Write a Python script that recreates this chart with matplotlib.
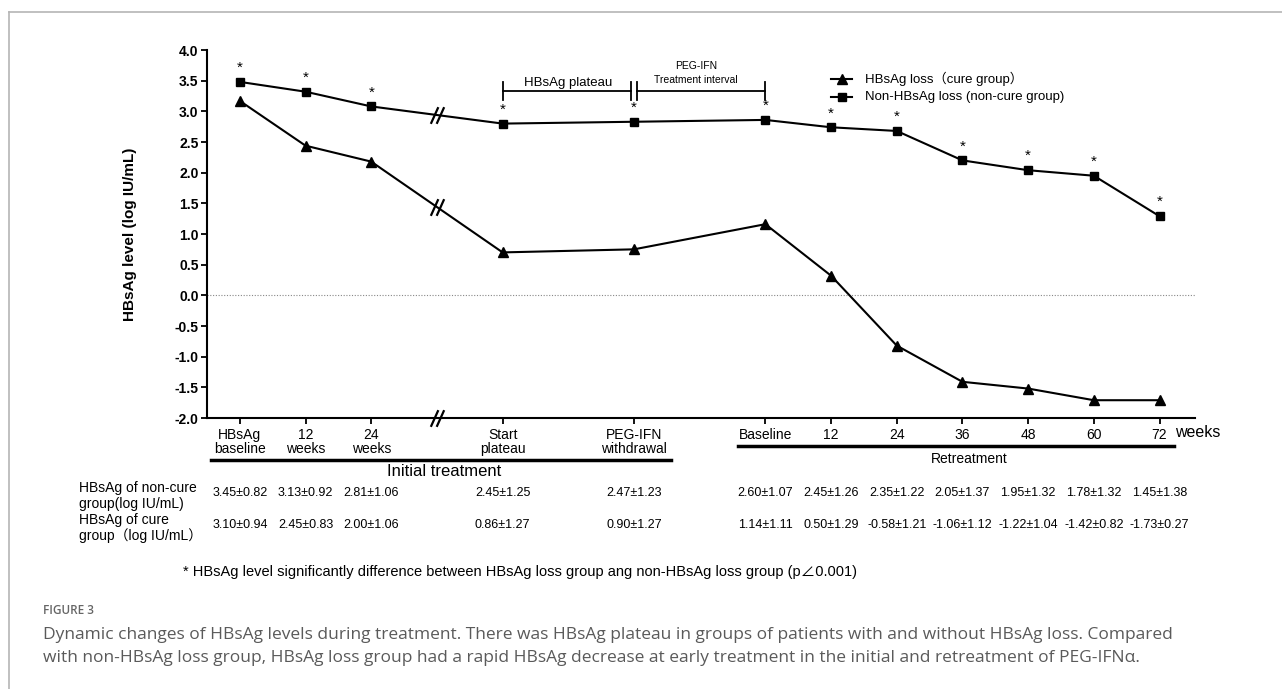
import numpy as np
import matplotlib
matplotlib.use("Agg")
import matplotlib.pyplot as plt
import matplotlib.transforms as mtransforms
from matplotlib.lines import Line2D
from matplotlib.path import Path

plt.rcParams['font.family'] = ['Liberation Sans', 'Noto Sans CJK SC', 'DejaVu Sans']

# time points (x-axis categories)
time_labels = ["HBsAg\nbaseline", "12\nweeks", "24\nweeks", "Start\nplateau", "PEG-IFN\nwithdrawal",
               "Baseline", "12", "24", "36", "48", "60", "72"]
slots = [0, 1, 2, 4, 6, 8, 9, 10, 11, 12, 13, 14]
break_slot = 3

# mean HBsAg level, log IU/mL
noncure_mean = [3.48, 3.32, 3.08, 2.80, 2.83, 2.86, 2.74, 2.68, 2.20, 2.04, 1.95, 1.29]
cure_mean = [3.17, 2.44, 2.18, 0.70, 0.75, 1.16, 0.32, -0.82, -1.41, -1.52, -1.71, -1.71]

# table under the chart
noncure_txt = ["3.45±0.82", "3.13±0.92", "2.81±1.06", "2.45±1.25", "2.47±1.23",
               "2.60±1.07", "2.45±1.26", "2.35±1.22", "2.05±1.37", "1.95±1.32", "1.78±1.32", "1.45±1.38"]
cure_txt = ["3.10±0.94", "2.45±0.83", "2.00±1.06", "0.86±1.27", "0.90±1.27",
            "1.14±1.11", "0.50±1.29", "-0.58±1.21", "-1.06±1.12", "-1.22±1.04", "-1.42±0.82", "-1.73±0.27"]

W, H = 1282, 689
fig = plt.figure(figsize=(W / 100, H / 100), dpi=100)

def fx(px):
    return px / W

def fy(px):
    return 1 - px / H

ax = fig.add_axes([fx(207), fy(418), fx(1195) - fx(207), fy(50) - fy(418)])
x = np.array(slots, dtype=float)

ax.plot(x, noncure_mean, color='black', lw=1.5, marker='s', ms=6, zorder=3)
ax.plot(x, cure_mean, color='black', lw=1.5, marker='^', ms=7.5, zorder=3)
ax.axhline(0, color='#888888', lw=0.8, ls=(0, (1, 1.5)), zorder=1)

for xi, yi in zip(x, noncure_mean):
    ax.annotate('*', (xi, yi), xytext=(0, 5), textcoords='offset points',
                ha='center', va='bottom', fontsize=11)

# break marks "//"
brk = Path([(-1.6, -2), (0.2, 2), (-0.2, -2), (1.6, 2)],
           [Path.MOVETO, Path.LINETO, Path.MOVETO, Path.LINETO])
yb = [np.interp(break_slot, x, noncure_mean), np.interp(break_slot, x, cure_mean), -2.0]
ax.plot([break_slot] * 3, yb, ls='none', marker=brk, ms=12, mew=1.6, mec='black', clip_on=False, zorder=4)

ax.set_xlim(-0.5, 14.54)
ax.set_ylim(-2, 4)
ax.set_yticks(np.arange(-2, 4.01, 0.5))
ax.set_yticklabels([f"{v:.1f}" for v in np.arange(-2, 4.01, 0.5)], fontweight='bold', fontsize=10)
ax.set_xticks(x)
ax.set_xticklabels(time_labels, fontsize=10, va='top', linespacing=1.05)
ax.tick_params(axis='both', direction='out', length=4, width=1.3, pad=2)
ax.tick_params(axis='x', pad=3)
for s in ['top', 'right']:
    ax.spines[s].set_visible(False)
for s in ['left', 'bottom']:
    ax.spines[s].set_linewidth(1.5)

fig.text(fx(130), fy(234), "HBsAg level (log IU/mL)", rotation=90, ha='center', va='center',
         fontsize=11, fontweight='bold')

bt = mtransforms.blended_transform_factory(ax.transData, fig.transFigure)

# weeks label
fig.text(fx(1175), fy(433), "weeks", ha='left', va='center', fontsize=11.5)

# group bars
ax.add_artist(Line2D([fx(211), fx(671)], [fy(460), fy(460)], transform=fig.transFigure, color='black', lw=2.5, clip_on=False))
ax.add_artist(Line2D([fx(738), fx(1174)], [fy(446), fy(446)], transform=fig.transFigure, color='black', lw=2.5, clip_on=False))
fig.text(fx(444), fy(472), "Initial treatment", ha='center', va='center', fontsize=12)
fig.text(fx(969), fy(459), "Retreatment", ha='center', va='center', fontsize=10)

# table rows
fig.text(fx(79), fy(496), "HBsAg of non-cure\ngroup(log IU/mL)", ha='left', va='center', fontsize=10, linespacing=1.1)
fig.text(fx(79), fy(528), "HBsAg of cure\ngroup（log IU/mL）", ha='left', va='center', fontsize=10, linespacing=1.1)
for xi, a, b in zip(x, noncure_txt, cure_txt):
    ax.text(xi, fy(493), a, transform=bt, ha='center', va='center', fontsize=9)
    ax.text(xi, fy(525), b, transform=bt, ha='center', va='center', fontsize=9)

fig.text(fx(183), fy(572), "* HBsAg level significantly difference between HBsAg loss group ang non-HBsAg loss group (p∠0.001)",
         ha='left', va='center', fontsize=10.5)

# brackets above the plateau
yh, y0, y1 = fy(91), fy(82), fy(100)
for xa, xb in [(4, 5.96), (6.04, 8)]:
    ax.add_artist(Line2D([xa, xb], [yh, yh], transform=bt, color='black', lw=1.3, clip_on=False))
    ax.add_artist(Line2D([xa, xa], [y0, y1], transform=bt, color='black', lw=1.3, clip_on=False))
    ax.add_artist(Line2D([xb, xb], [y0, y1], transform=bt, color='black', lw=1.3, clip_on=False))
ax.text(5, fy(83), "HBsAg plateau", transform=bt, ha='center', va='center', fontsize=9.5)
ax.text(6.94, fy(66), "PEG-IFN", transform=bt, ha='center', va='center', fontsize=7.5)
ax.text(6.94, fy(80), "Treatment interval", transform=bt, ha='center', va='center', fontsize=7.5)

# legend
for ypx, mk, ms, lab in [(79, '^', 7.5, "HBsAg loss（cure group）"), (97, 's', 6, "Non-HBsAg loss (non-cure group)")]:
    fig.add_artist(Line2D([fx(831), fx(852)], [fy(ypx), fy(ypx)], transform=fig.transFigure,
                          color='black', lw=1.5))
    fig.add_artist(Line2D([fx(841.5)], [fy(ypx)], transform=fig.transFigure, color='black',
                          marker=mk, ms=ms, ls='none'))
    fig.text(fx(865), fy(ypx), lab, ha='left', va='center', fontsize=9.5)

# frame and caption
fig.add_artist(Line2D([fx(9), 1], [fy(12), fy(12)], transform=fig.transFigure, color='#b5b5b5', lw=1.2))
fig.add_artist(Line2D([fx(9), fx(9)], [fy(12), 0], transform=fig.transFigure, color='#b5b5b5', lw=1.2))
fig.text(fx(43), fy(610), "FIGURE 3", ha='left', va='center', fontsize=8.5, color='#666666',
         family='Open Sans', fontweight='semibold')
fig.text(fx(43), fy(635), "Dynamic changes of HBsAg levels during treatment. There was HBsAg plateau in groups of patients with and without HBsAg loss. Compared",
         ha='left', va='center', fontsize=12.5, color='#5a5a5a', family='Open Sans')
fig.text(fx(43), fy(658), "with non-HBsAg loss group, HBsAg loss group had a rapid HBsAg decrease at early treatment in the initial and retreatment of PEG-IFNα.",
         ha='left', va='center', fontsize=12.5, color='#5a5a5a', family='Open Sans')

fig.savefig("out.png", dpi=100, facecolor='white')
